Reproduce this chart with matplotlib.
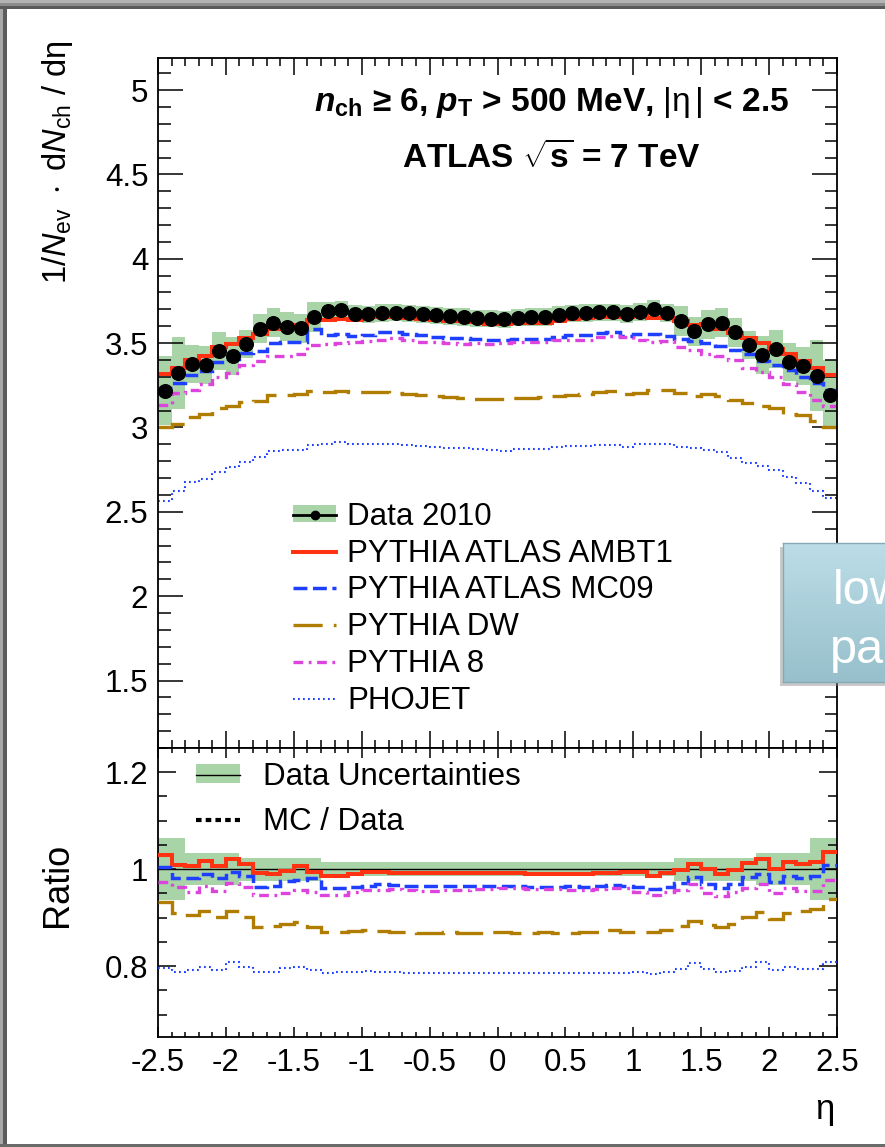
import numpy as np
import matplotlib
matplotlib.use("Agg")
import matplotlib.pyplot as plt
from matplotlib.patches import Patch, Rectangle
from matplotlib.lines import Line2D
from matplotlib.ticker import MultipleLocator
from matplotlib.colors import LinearSegmentedColormap

plt.rcParams["font.family"] = ["Liberation Sans", "DejaVu Sans"]
plt.rcParams["mathtext.fontset"] = "custom"
plt.rcParams["mathtext.rm"] = "Liberation Sans"
plt.rcParams["mathtext.it"] = "Liberation Sans:italic"
plt.rcParams["mathtext.bf"] = "Liberation Sans:bold"
plt.rcParams["mathtext.bfit"] = "Liberation Sans:bold:italic"
plt.rcParams["lines.scale_dashes"] = False

# eta binning: 50 bins of 0.1
eta_edges = np.linspace(-2.5, 2.5, 51)
eta_mid = 0.5 * (eta_edges[1:] + eta_edges[:-1])

# Data 2010, 1/Nev dNch/deta
data = [3.218, 3.325, 3.377, 3.371, 3.454, 3.424, 3.495, 3.584, 3.622, 3.598,
        3.588, 3.654, 3.693, 3.697, 3.675, 3.671, 3.679, 3.681, 3.677, 3.671,
        3.665, 3.659, 3.654, 3.648, 3.644, 3.642, 3.651, 3.655, 3.655, 3.669,
        3.677, 3.679, 3.683, 3.683, 3.673, 3.685, 3.705, 3.679, 3.632, 3.571,
        3.612, 3.622, 3.565, 3.489, 3.430, 3.466, 3.389, 3.363, 3.307, 3.195]
# relative data uncertainty (green band in ratio)
data_relerr = [0.064, 0.064, 0.033, 0.033, 0.033, 0.033, 0.024, 0.024, 0.024, 0.024,
               0.024, 0.024, 0.014, 0.014, 0.014, 0.014, 0.014, 0.014, 0.014, 0.014,
               0.014, 0.014, 0.014, 0.014, 0.014, 0.014, 0.014, 0.014, 0.014, 0.014,
               0.014, 0.014, 0.014, 0.014, 0.014, 0.014, 0.014, 0.014, 0.024, 0.024,
               0.024, 0.024, 0.024, 0.024, 0.033, 0.033, 0.033, 0.033, 0.064, 0.064]

# MC / Data
ratio_ambt1 = [1.030, 1.008, 1.006, 1.016, 1.006, 1.021, 1.010, 0.992, 0.990, 0.997,
               1.006, 0.995, 0.985, 0.985, 0.990, 0.995, 0.995, 0.993, 0.992, 0.992,
               0.992, 0.992, 0.993, 0.993, 0.992, 0.992, 0.992, 0.991, 0.991, 0.990,
               0.990, 0.991, 0.992, 0.993, 0.995, 0.994, 0.985, 0.992, 0.999, 1.010,
               1.000, 0.990, 0.999, 1.012, 1.021, 1.000, 1.014, 1.010, 1.014, 1.036]
ratio_mc09 = [1.005, 0.981, 0.981, 0.990, 0.981, 0.994, 0.985, 0.964, 0.966, 0.975,
              0.978, 0.981, 0.961, 0.962, 0.964, 0.966, 0.969, 0.968, 0.966, 0.966,
              0.965, 0.965, 0.966, 0.966, 0.966, 0.966, 0.965, 0.964, 0.964, 0.964,
              0.965, 0.964, 0.966, 0.968, 0.965, 0.964, 0.959, 0.963, 0.971, 0.984,
              0.969, 0.961, 0.970, 0.984, 0.990, 0.973, 0.985, 0.981, 0.987, 1.008]
ratio_dw = [0.933, 0.909, 0.906, 0.914, 0.902, 0.914, 0.902, 0.880, 0.882, 0.887,
            0.891, 0.880, 0.870, 0.870, 0.873, 0.875, 0.873, 0.871, 0.870, 0.869,
            0.869, 0.870, 0.869, 0.869, 0.870, 0.870, 0.869, 0.869, 0.870, 0.869,
            0.868, 0.870, 0.871, 0.874, 0.870, 0.870, 0.870, 0.875, 0.882, 0.893,
            0.885, 0.880, 0.887, 0.902, 0.911, 0.898, 0.909, 0.914, 0.918, 0.939]
ratio_py8 = [0.973, 0.964, 0.954, 0.966, 0.955, 0.971, 0.964, 0.947, 0.946, 0.951,
             0.957, 0.954, 0.946, 0.947, 0.954, 0.957, 0.957, 0.959, 0.957, 0.956,
             0.956, 0.957, 0.957, 0.959, 0.959, 0.962, 0.961, 0.959, 0.959, 0.959,
             0.957, 0.957, 0.960, 0.962, 0.962, 0.954, 0.946, 0.954, 0.957, 0.969,
             0.951, 0.945, 0.954, 0.961, 0.970, 0.951, 0.961, 0.955, 0.956, 0.978]
ratio_phojet = [0.796, 0.789, 0.792, 0.799, 0.792, 0.808, 0.799, 0.788, 0.789, 0.796,
                0.799, 0.792, 0.786, 0.788, 0.789, 0.790, 0.788, 0.788, 0.787, 0.787,
                0.787, 0.787, 0.787, 0.787, 0.787, 0.786, 0.786, 0.786, 0.786, 0.786,
                0.786, 0.786, 0.786, 0.786, 0.786, 0.788, 0.784, 0.788, 0.794, 0.806,
                0.794, 0.788, 0.790, 0.799, 0.808, 0.792, 0.799, 0.794, 0.794, 0.809]

labels = ["PYTHIA ATLAS AMBT1", "PYTHIA ATLAS MC09", "PYTHIA DW", "PYTHIA 8", "PHOJET"]
green = "#a8d4a8"
styles = [
    dict(color="#ff3311", lw=2.9, ls="-"),
    dict(color="#1f3fff", lw=2.5, ls=(0, (10, 4))),
    dict(color="#b07d00", lw=2.4, ls=(0, (21, 8))),
    dict(color="#dd44dd", lw=2.4, ls=(0, (7, 4, 2, 4))),
    dict(color="#2244ff", lw=1.5, ls=(0, (1.3, 2.3))),
]

data = np.array(data)
relerr = np.array(data_relerr)
ratios = [np.array(r) for r in (ratio_ambt1, ratio_mc09, ratio_dw, ratio_py8, ratio_phojet)]
mcs = [r * data for r in ratios]

W, H = 885, 1147
fig = plt.figure(figsize=(W / 100, H / 100), dpi=100)
x0, x1 = 158, 837
ax = fig.add_axes([x0 / W, 1 - 748 / H, (x1 - x0) / W, (748 - 58) / H])
axr = fig.add_axes([x0 / W, 1 - 1037 / H, (x1 - x0) / W, (1037 - 748) / H])

# main panel
ax.stairs(data * (1 + relerr), eta_edges, baseline=data * (1 - relerr), fill=True,
          color=green, lw=0, zorder=1)
for mc, st in zip(mcs, styles):
    ax.stairs(mc, eta_edges, baseline=None, zorder=2, **st)
ax.plot(eta_mid, data, "o", color="black", ms=9.8, zorder=3)

ax.set_xlim(-2.5, 2.5)
ax.set_ylim(1.1, 5.19)
ax.set_ylabel(r"$1/N_{\mathrm{ev}}\ \cdot\ \mathrm{d}N_{\mathrm{ch}}\ /\ \mathrm{d\eta}$",
              fontsize=23.5, loc="top")
ax.yaxis.set_label_coords(-0.122, 1.026)

ax.text(0.579, 0.936,
        r"$\mathbfit{n}_{\mathbf{ch}}$ ≥ 6, $\mathbfit{p}_{\mathbf{T}}$ > 500 MeV, $|\mathrm{\eta}\,|$ < 2.5",
        transform=ax.transAxes, ha="center", va="center", fontsize=24, fontweight="bold")
ax.text(0.579, 0.855, r"ATLAS $\sqrt{\mathbf{s}}$ = 7 TeV",
        transform=ax.transAxes, ha="center", va="center", fontsize=24, fontweight="bold")

handles = [(Patch(facecolor=green, edgecolor="none"),
            Line2D([], [], color="black", lw=2, marker="o", ms=6))]
handles += [Line2D([], [], **st) for st in styles]
ax.legend(handles, ["Data 2010"] + labels, loc="upper left", bbox_to_anchor=(0.199, 0.357),
          frameon=False, fontsize=22.5, handlelength=1.38, handleheight=0.5,
          handletextpad=0.35, labelspacing=0.22, borderpad=0, borderaxespad=0)

# ratio panel
axr.stairs(1 + relerr, eta_edges, baseline=1 - relerr, fill=True, color=green, lw=0, zorder=1)
axr.axhline(1.0, color="black", lw=1, zorder=2)
for r, st in zip(ratios, styles):
    axr.stairs(r, eta_edges, baseline=None, zorder=3, **st)
axr.set_xlim(-2.5, 2.5)
axr.set_ylim(0.654, 1.25)
axr.set_ylabel("Ratio", fontsize=26)
axr.yaxis.set_label_coords(-0.122, 0.526)
axr.set_xlabel(r"$\mathrm{\eta}$", fontsize=25, loc="right")
axr.xaxis.set_label_coords(0.995, -0.2)

rhandles = [(Patch(facecolor=green, edgecolor="none"), Line2D([], [], color="black", lw=1)),
            Line2D([], [], color="black", lw=3, ls=(0, (4, 3)))]
axr.legend(rhandles, ["Data Uncertainties", "MC / Data"], loc="upper left",
           bbox_to_anchor=(0.056, 0.952), frameon=False, fontsize=22.5, handlelength=1.4,
           handleheight=0.55, handletextpad=0.74, labelspacing=0.5, borderpad=0,
           borderaxespad=0)

# ROOT-like ticks
for a in (ax, axr):
    a.xaxis.set_major_locator(MultipleLocator(0.5))
    a.xaxis.set_minor_locator(MultipleLocator(0.1))
    for s in a.spines.values():
        s.set_linewidth(1.3)
    a.tick_params(which="both", direction="in", top=True, right=True, width=1.1,
                  labelsize=22.5)
ax.yaxis.set_major_locator(MultipleLocator(0.5))
ax.yaxis.set_minor_locator(MultipleLocator(0.1))
ax.tick_params(axis="y", which="major", length=18, pad=7)
ax.tick_params(axis="y", which="minor", length=9)
ax.tick_params(axis="x", which="major", length=12, labelbottom=False)
ax.tick_params(axis="x", which="minor", length=6)
axr.yaxis.set_major_locator(MultipleLocator(0.2))
axr.yaxis.set_minor_locator(MultipleLocator(0.05))
axr.tick_params(axis="y", which="major", length=13, pad=7)
axr.tick_params(axis="y", which="minor", length=6.5)
axr.tick_params(axis="x", which="major", length=7, pad=8)
axr.tick_params(axis="x", which="minor", length=3.5)
axr.set_yticks([0.8, 1.0, 1.2])
axr.set_yticklabels(["0.8", "1", "1.2"])
ax.set_yticks([1.5, 2, 2.5, 3, 3.5, 4, 4.5, 5])
ax.set_yticklabels(["1.5", "2", "2.5", "3", "3.5", "4", "4.5", "5"])
axr.set_xticks([-2.5, -2, -1.5, -1, -0.5, 0, 0.5, 1, 1.5, 2, 2.5])
axr.set_xticklabels(["-2.5", "-2", "-1.5", "-1", "-0.5", "0", "0.5", "1", "1.5", "2", "2.5"])

# slide call-out box on the right (clipped by the page edge)
fig.patches.append(Rectangle((780 / W, 1 - 686 / H), 120 / W, 139 / H, transform=fig.transFigure,
                             color="#888888", alpha=0.45, lw=0, zorder=4))
axb = fig.add_axes([783 / W, 1 - 682 / H, 110 / W, 139 / H], zorder=5)
cmap = LinearSegmentedColormap.from_list("box", ["#bcdde7", "#97c0cc"])
axb.imshow(np.linspace(0, 1, 64).reshape(-1, 1), cmap=cmap, aspect="auto")
axb.set_xticks([])
axb.set_yticks([])
for s in axb.spines.values():
    s.set_color("#86aab5")
    s.set_linewidth(1)
fig.text(833 / W, 1 - 604 / H, "low", color="white", fontsize=35, va="baseline", zorder=6)
fig.text(830 / W, 1 - 663 / H, "pa", color="white", fontsize=35, va="baseline", zorder=6)

# slide frame
frame = [((0, 0), 7, H, "#5c5c5c"), ((0, 0), 3, H, "#a8a8a8"),
         ((0, H - 9), W, 9, "#5a5a5a"), ((0, H - 6), W, 6, "#8c8c8c"),
         ((0, H - 3), W, 3, "#b4b4b4"), ((0, 0), W, 3, "#6a6a6a")]
for (px, py), w, h, c in frame:
    fig.patches.append(Rectangle((px / W, py / H), w / W, h / H, transform=fig.transFigure,
                                 color=c, lw=0, zorder=10))

fig.savefig("out.png", dpi=100)
